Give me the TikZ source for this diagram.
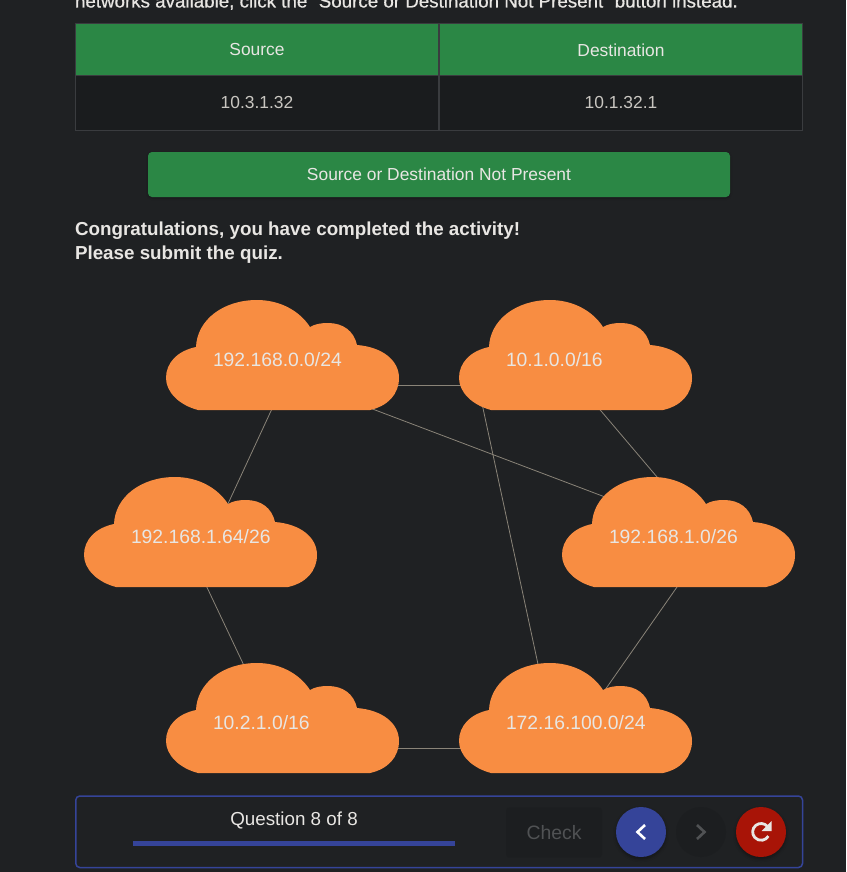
\documentclass[tikz,border=0pt]{standalone}
\usepackage{fontspec}
\setmainfont{Liberation Sans}
\usetikzlibrary{calc,shadows.blur}
\definecolor{pagebg}{HTML}{1F2123}
\definecolor{okgreen}{HTML}{2B8745}
\definecolor{cellbg}{HTML}{1A1C1E}
\definecolor{rulegrey}{HTML}{3A3C3F}
\definecolor{cloudfill}{HTML}{F88D42}
\definecolor{softtext}{HTML}{E8E6E3}
\definecolor{celltext}{HTML}{C9C6C1}
\definecolor{linkgrey}{HTML}{8A8478}
\definecolor{navblue}{HTML}{354499}
\definecolor{redobg}{HTML}{A81407}
\definecolor{offbg}{HTML}{1C1E20}
\definecolor{offtext}{HTML}{505254}
\tikzset{
  x=1pt,y=-1pt,
  every node/.style={inner sep=0pt,outer sep=0pt,text=softtext},
  uitext/.style={font=\fontsize{17.4}{20}\selectfont},
  boldtext/.style={font=\fontsize{18.8}{22}\bfseries\selectfont,anchor=base west},
  anchorpt/.style={minimum size=0pt},
  netlabel/.style={font=\fontsize{19.3}{22}\selectfont,anchor=west},
  link/.style={draw=linkgrey,line width=0.8pt},
  roundbtn/.style={circle,minimum size=50pt},
}
\newcommand{\netcloud}[3]{%
  \fill[cloudfill,shift={($(#1)+(-117,-85)$)}]
    (32,110) -- (204,110)
    .. controls (222,106) and (233,94) .. (233,78)
    .. controls (233,60) and (216,47) .. (191,45)
    .. controls (188,31) and (177,23) .. (162,23)
    .. controls (155,23) and (149,24) .. (144,27)
    .. controls (133,10) and (113,0) .. (91,0)
    .. controls (57,0) and (31,20) .. (30,47)
    .. controls (11,51) and (0,63) .. (0,78)
    .. controls (0,92) and (13,105) .. (32,110) -- cycle;
  \node[netlabel] (#2) at ($(#1)+(-70,-25.3)$) {#3};%
}
\begin{document}
\begin{tikzpicture}
\useasboundingbox (0,0) rectangle (846,872);
\fill[pagebg] (0,0) rectangle (846,872);
% top clipped sentence
\node[anchor=base west,font=\fontsize{18.75}{22}\selectfont\addfontfeature{FakeBold=0.6}] (intro) at (75,7.5) {networks available, click the "Source or Destination Not Present" button instead.};
% table
\fill[okgreen] (75,23.5) rectangle (803,75);
\fill[cellbg] (75,75) rectangle (803,131);
\draw[rulegrey,line width=1pt] (75.5,23.5) rectangle (802.5,130.5);
\draw[rulegrey,line width=1pt] (75.5,75.5) -- (802.5,75.5);
\draw[rulegrey,line width=1.5pt] (439,23.5) -- (439,130.5);
\node[uitext] (h1) at (257,50) {Source};
\node[uitext] (h2) at (621,50) {Destination};
\node[uitext,text=celltext] (d1) at (257,103) {10.3.1.32};
\node[uitext,text=celltext] (d2) at (621,103) {10.1.32.1};
% button
\node[fill=okgreen,rounded corners=4pt,minimum width=582pt,minimum height=45pt,blur shadow={shadow blur steps=5,shadow xshift=0pt,shadow yshift=-1pt,shadow blur radius=2pt,shadow opacity=25},uitext,text=softtext] (notpresent) at (439,174.5) {Source or Destination Not Present};
% message
\node[boldtext] (msg1) at (75,235) {Congratulations, you have completed the activity!};
\node[boldtext] (msg2) at (75,259) {Please submit the quiz.};
% network anchors
\node[anchorpt] (c1) at (283,385) {};
\node[anchorpt] (c2) at (576,385) {};
\node[anchorpt] (c3) at (201,562) {};
\node[anchorpt] (c4) at (679,562) {};
\node[anchorpt] (c5) at (283,748) {};
\node[anchorpt] (c6) at (576,748) {};
% links
\draw[link] (c1.center) -- (c2.center);
\draw[link] (c5.center) -- (c6.center);
\draw[link] (c1.center) -- (c3.center);
\draw[link] ($(c3)+(-6,0)$) -- (c5.center);
\draw[link] ($(c1)+(-3,-11)$) -- ($(c4)+(0,-37)$);
\draw[link] ($(c2)+(3,0)$) -- ($(c4)+(23,-32)$);
\draw[link] ($(c2)+(-98,0)$) -- ($(c6)+(-20,0)$);
\draw[link] ($(c4)+(15.5,0)$) -- ($(c6)+(-11.6,0)$);
% clouds
\netcloud{c1}{t1}{192.168.0.0/24}
\netcloud{c2}{t2}{10.1.0.0/16}
\netcloud{c3}{t3}{192.168.1.64/26}
\netcloud{c4}{t4}{192.168.1.0/26}
\netcloud{c5}{t5}{10.2.1.0/16}
\netcloud{c6}{t6}{172.16.100.0/24}
% footer panel
\draw[navblue,line width=1.5pt,rounded corners=4pt] (75.8,796) rectangle (802.5,867.5);
\node[font=\fontsize{18.8}{22}\selectfont] (q) at (294,820) {Question 8 of 8};
\fill[navblue] (133,841) rectangle (455,846);
\node[fill=offbg,rounded corners=3pt,minimum width=96pt,minimum height=50pt,text=offtext,font=\fontsize{19.4}{22}\selectfont] (check) at (554,832.5) {Check};
\node[roundbtn,fill=navblue,blur shadow={shadow blur steps=5,shadow xshift=0pt,shadow yshift=-2pt,shadow blur radius=3pt,shadow opacity=35}] (back) at (641,832) {};
\node[roundbtn,fill=offbg] (next) at (701,832) {};
\node[roundbtn,fill=redobg,blur shadow={shadow blur steps=5,shadow xshift=0pt,shadow yshift=-2pt,shadow blur radius=3pt,shadow opacity=35}] (redo) at (761,832) {};
\draw[white,line width=2.6pt,line join=miter] ($(back)+(4,-7)$) -- ($(back)+(-3.5,0)$) -- ($(back)+(4,7)$);
\draw[offtext,line width=2.6pt,line join=miter] ($(next)+(-4,-7)$) -- ($(next)+(3.5,0)$) -- ($(next)+(-4,7)$);
\draw[softtext,line width=2.8pt] ($(redo)+(6.5,-5.5)$) arc[start angle=-40,end angle=-330,radius=8.4];
\fill[softtext] ($(redo)+(10.5,-11)$) -- ($(redo)+(10.5,-1)$) -- ($(redo)+(0.5,-1)$) -- cycle;
\end{tikzpicture}
\end{document}
